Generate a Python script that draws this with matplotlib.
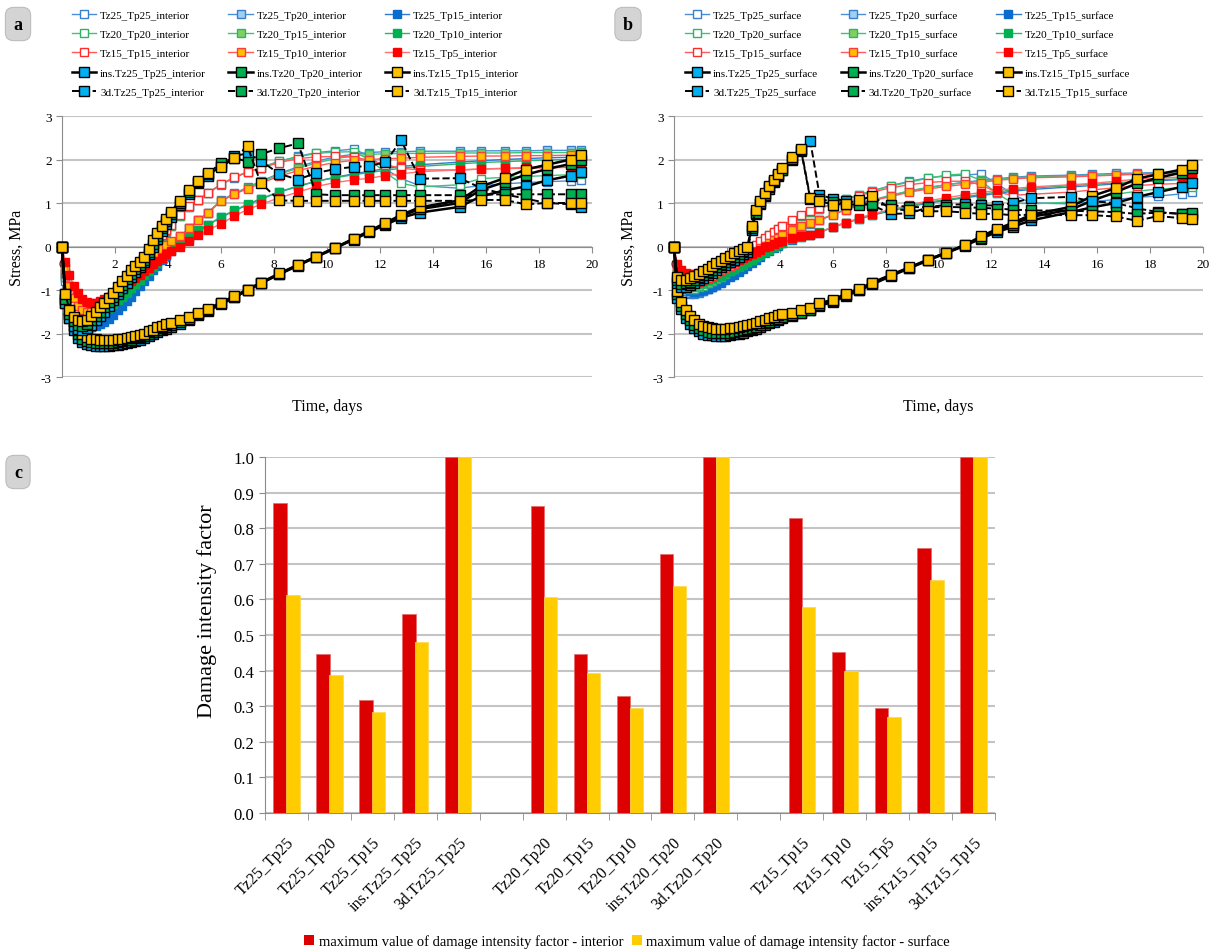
import numpy as np
import matplotlib.pyplot as plt
from matplotlib.patches import Patch

plt.rcParams['font.family'] = ['Liberation Serif', 'DejaVu Serif']
plt.rcParams['axes.unicode_minus'] = False

# time grid, days
T = [0, 0.13, 0.28, 0.44, 0.6, 0.77, 0.94, 1.1, 1.27, 1.44,
     1.6, 1.77, 1.94, 2.1, 2.27, 2.44, 2.6, 2.77, 2.94, 3.1,
     3.27, 3.44, 3.6, 3.77, 3.94, 4.1, 4.45, 4.8, 5.15, 5.5,
     6.0, 6.5, 7.0, 7.5, 8.2, 8.9, 9.6, 10.3, 11.0, 11.6,
     12.2, 12.8, 13.5, 15.0, 15.8, 16.7, 17.5, 18.3, 19.2, 19.6]

# ---- interior stress, MPa ----
i_Tz25_Tp25 = [0, -0.8, -1.25, -1.55, -1.74, -1.84, -1.88, -1.86, -1.81, -1.73,
               -1.63, -1.51, -1.39, -1.25, -1.11, -0.97, -0.83, -0.68, -0.54, -0.4,
               -0.25, -0.1, 0.05, 0.2, 0.33, 0.46, 0.7, 0.9, 1.07, 1.22,
               1.42, 1.58, 1.71, 1.81, 1.96, 2.07, 2.16, 2.2, 2.24, 2.08,
               1.78, 1.56, 1.4, 1.34, 1.4, 1.44, 1.47, 1.49, 1.51, 1.53]
i_Tz25_Tp20 = [0, -0.7, -1.12, -1.42, -1.6, -1.72, -1.78, -1.78, -1.75, -1.69,
               -1.62, -1.53, -1.43, -1.33, -1.22, -1.11, -1.0, -0.88, -0.76, -0.64,
               -0.52, -0.4, -0.28, -0.16, -0.05, 0.05, 0.22, 0.42, 0.6, 0.78,
               1.06, 1.22, 1.36, 1.5, 1.68, 1.83, 1.96, 2.06, 2.12, 2.16,
               2.18, 2.18, 2.19, 2.19, 2.2, 2.2, 2.2, 2.21, 2.21, 2.21]
i_Tz25_Tp15 = [0, -0.65, -1.1, -1.42, -1.62, -1.75, -1.82, -1.84, -1.83, -1.79,
               -1.73, -1.66, -1.57, -1.47, -1.37, -1.26, -1.15, -1.03, -0.91, -0.79,
               -0.67, -0.55, -0.44, -0.32, -0.21, -0.1, 0.05, 0.2, 0.36, 0.49,
               0.67, 0.82, 0.96, 1.09, 1.25, 1.38, 1.5, 1.59, 1.67, 1.73,
               1.79, 1.84, 1.88, 1.94, 1.97, 2.0, 2.02, 2.04, 2.05, 2.07]
i_Tz20_Tp20 = [0, -0.7, -1.12, -1.4, -1.58, -1.68, -1.72, -1.7, -1.65, -1.57,
               -1.47, -1.36, -1.24, -1.11, -0.98, -0.85, -0.72, -0.58, -0.45, -0.32,
               -0.18, -0.05, 0.09, 0.23, 0.36, 0.48, 0.71, 0.91, 1.08, 1.23,
               1.43, 1.59, 1.71, 1.81, 1.96, 2.06, 2.14, 2.17, 2.18, 2.0,
               1.7, 1.45, 1.37, 1.42, 1.56, 1.59, 1.61, 1.63, 1.65, 1.66]
i_Tz20_Tp15 = [0, -0.6, -1.0, -1.28, -1.46, -1.57, -1.62, -1.62, -1.59, -1.53,
               -1.46, -1.38, -1.29, -1.19, -1.09, -0.99, -0.88, -0.77, -0.66, -0.55,
               -0.44, -0.33, -0.22, -0.11, -0.01, 0.08, 0.23, 0.42, 0.6, 0.78,
               1.05, 1.21, 1.35, 1.48, 1.66, 1.8, 1.92, 2.02, 2.08, 2.12,
               2.13, 2.14, 2.14, 2.15, 2.15, 2.15, 2.16, 2.16, 2.16, 2.17]
i_Tz20_Tp10 = [0, -0.5, -0.9, -1.2, -1.4, -1.52, -1.58, -1.6, -1.58, -1.54,
               -1.48, -1.41, -1.33, -1.24, -1.15, -1.06, -0.96, -0.86, -0.76, -0.66,
               -0.56, -0.46, -0.37, -0.27, -0.18, -0.09, 0.08, 0.22, 0.38, 0.5,
               0.68, 0.83, 0.97, 1.1, 1.26, 1.39, 1.5, 1.58, 1.65, 1.7,
               1.75, 1.8, 1.84, 1.9, 1.93, 1.95, 1.97, 1.99, 2.0, 2.02]
i_Tz15_Tp15 = [0, -0.6, -1.0, -1.28, -1.45, -1.53, -1.55, -1.53, -1.48, -1.4,
               -1.31, -1.2, -1.09, -0.97, -0.85, -0.73, -0.61, -0.48, -0.36, -0.24,
               -0.12, 0.0, 0.13, 0.26, 0.38, 0.5, 0.72, 0.92, 1.08, 1.23,
               1.43, 1.59, 1.72, 1.8, 1.93, 2.02, 2.06, 2.07, 2.06, 1.98,
               1.88, 1.8, 1.76, 1.76, 1.78, 1.79, 1.8, 1.81, 1.82, 1.83]
i_Tz15_Tp10 = [0, -0.5, -0.9, -1.18, -1.36, -1.46, -1.5, -1.5, -1.47, -1.41,
               -1.33, -1.24, -1.15, -1.06, -0.96, -0.86, -0.76, -0.66, -0.56, -0.46,
               -0.36, -0.26, -0.16, -0.06, 0.03, 0.12, 0.24, 0.42, 0.6, 0.76,
               1.04, 1.2, 1.33, 1.45, 1.62, 1.74, 1.85, 1.93, 1.98, 2.0,
               2.02, 2.03, 2.05, 2.07, 2.08, 2.08, 2.09, 2.09, 2.1, 2.1]
i_Tz15_Tp5 = [0, -0.35, -0.65, -0.9, -1.08, -1.2, -1.28, -1.3, -1.29, -1.26,
              -1.21, -1.15, -1.08, -1.01, -0.94, -0.87, -0.8, -0.72, -0.65, -0.57,
              -0.49, -0.41, -0.34, -0.26, -0.18, -0.11, 0.0, 0.12, 0.26, 0.38,
              0.52, 0.7, 0.85, 0.97, 1.12, 1.25, 1.38, 1.47, 1.53, 1.57,
              1.63, 1.67, 1.72, 1.76, 1.78, 1.8, 1.82, 1.84, 1.85, 1.88]
i_ins_Tz25 = [0, -1.3, -1.65, -1.92, -2.1, -2.2, -2.25, -2.27, -2.28, -2.28,
              -2.28, -2.28, -2.27, -2.26, -2.24, -2.22, -2.2, -2.17, -2.14, -2.1,
              -2.06, -2.02, -1.97, -1.93, -1.89, -1.85, -1.78, -1.69, -1.58, -1.48,
              -1.33, -1.17, -1.01, -0.85, -0.64, -0.44, -0.24, -0.04, 0.16, 0.33,
              0.5, 0.66, 0.78, 0.91, 1.15, 1.29, 1.38, 1.52, 1.63, 1.71]
i_ins_Tz20 = [0, -1.2, -1.55, -1.82, -2.02, -2.12, -2.17, -2.2, -2.21, -2.22,
              -2.22, -2.22, -2.21, -2.2, -2.18, -2.16, -2.14, -2.11, -2.08, -2.05,
              -2.01, -1.97, -1.92, -1.88, -1.84, -1.8, -1.74, -1.66, -1.56, -1.46,
              -1.31, -1.16, -1.0, -0.84, -0.63, -0.43, -0.23, -0.03, 0.17, 0.35,
              0.52, 0.7, 0.86, 1.0, 1.3, 1.48, 1.65, 1.78, 1.9, 2.0]
i_ins_Tz15 = [0, -1.1, -1.45, -1.72, -1.92, -2.02, -2.08, -2.12, -2.13, -2.14,
              -2.15, -2.15, -2.14, -2.13, -2.12, -2.1, -2.08, -2.06, -2.03, -2.0,
              -1.95, -1.91, -1.86, -1.82, -1.78, -1.75, -1.7, -1.63, -1.53, -1.43,
              -1.29, -1.14, -0.99, -0.83, -0.62, -0.42, -0.23, -0.03, 0.18, 0.36,
              0.54, 0.73, 0.9, 1.06, 1.38, 1.57, 1.77, 1.88, 2.0, 2.11]
i_3d_Tz25 = [0, -1.3, -1.65, -1.82, -1.9, -1.92, -1.88, -1.8, -1.7, -1.6,
             -1.5, -1.37, -1.24, -1.1, -0.96, -0.83, -0.7, -0.58, -0.47, -0.35,
             -0.18, 0.0, 0.18, 0.36, 0.52, 0.68, 0.95, 1.2, 1.45, 1.63,
             1.85, 2.08, 2.14, 1.97, 1.67, 1.54, 1.69, 1.78, 1.83, 1.85,
             1.94, 2.44, 1.56, 1.57, 1.35, 1.2, 1.1, 1.0, 0.97, 0.9]
i_3d_Tz20 = [0, -1.2, -1.55, -1.72, -1.8, -1.82, -1.78, -1.7, -1.6, -1.5,
             -1.4, -1.28, -1.15, -1.02, -0.88, -0.75, -0.63, -0.52, -0.42, -0.3,
             -0.12, 0.06, 0.25, 0.42, 0.58, 0.74, 1.0, 1.25, 1.48, 1.67,
             1.92, 2.04, 1.95, 2.12, 2.26, 2.37, 1.2, 1.18, 1.18, 1.18,
             1.18, 1.18, 1.18, 1.18, 1.19, 1.2, 1.2, 1.2, 1.2, 1.21]
i_3d_Tz15 = [0, -1.1, -1.45, -1.62, -1.7, -1.72, -1.68, -1.6, -1.5, -1.4,
             -1.3, -1.18, -1.06, -0.94, -0.8, -0.67, -0.55, -0.45, -0.36, -0.24,
             -0.05, 0.14, 0.32, 0.48, 0.64, 0.8, 1.05, 1.29, 1.5, 1.68,
             1.82, 2.04, 2.3, 1.46, 1.06, 1.05, 1.05, 1.05, 1.05, 1.05,
             1.05, 1.05, 1.05, 1.05, 1.07, 1.07, 0.97, 1.0, 1.0, 1.0]

# ---- surface stress, MPa ----
s_Tz25_Tp25 = [0, -0.75, -0.97, -1.07, -1.1, -1.1, -1.07, -1.03, -0.98, -0.92,
               -0.85, -0.78, -0.7, -0.62, -0.53, -0.44, -0.34, -0.24, -0.14, -0.04,
               0.06, 0.15, 0.23, 0.31, 0.38, 0.45, 0.58, 0.7, 0.8, 0.87,
               0.98, 1.09, 1.19, 1.28, 1.4, 1.5, 1.58, 1.62, 1.64, 1.67,
               1.45, 1.2, 1.0, 0.98, 1.03, 1.08, 1.13, 1.16, 1.21, 1.25]
s_Tz25_Tp20 = [0, -0.7, -0.92, -1.02, -1.06, -1.07, -1.05, -1.02, -0.98, -0.93,
               -0.88, -0.82, -0.75, -0.68, -0.61, -0.53, -0.45, -0.37, -0.29, -0.21,
               -0.13, -0.05, 0.02, 0.09, 0.15, 0.21, 0.34, 0.44, 0.52, 0.6,
               0.73, 0.85, 0.96, 1.06, 1.17, 1.27, 1.35, 1.42, 1.48, 1.52,
               1.56, 1.59, 1.62, 1.64, 1.66, 1.68, 1.69, 1.7, 1.71, 1.72]
s_Tz25_Tp15 = [0, -0.65, -0.88, -0.98, -1.03, -1.04, -1.03, -1.0, -0.97, -0.93,
               -0.88, -0.83, -0.77, -0.71, -0.65, -0.58, -0.51, -0.44, -0.37, -0.3,
               -0.23, -0.16, -0.1, -0.04, 0.02, 0.07, 0.16, 0.21, 0.26, 0.32,
               0.44, 0.54, 0.63, 0.72, 0.82, 0.91, 1.0, 1.06, 1.12, 1.17,
               1.22, 1.27, 1.31, 1.37, 1.4, 1.44, 1.48, 1.51, 1.54, 1.56]
s_Tz20_Tp20 = [0, -0.65, -0.86, -0.95, -0.98, -0.97, -0.94, -0.9, -0.85, -0.79,
               -0.73, -0.66, -0.59, -0.51, -0.43, -0.35, -0.26, -0.17, -0.08, 0.01,
               0.1, 0.18, 0.26, 0.33, 0.4, 0.46, 0.59, 0.7, 0.8, 0.87,
               0.98, 1.09, 1.19, 1.28, 1.39, 1.48, 1.57, 1.64, 1.67, 1.52,
               1.22, 1.0, 0.98, 1.02, 1.1, 1.2, 1.27, 1.32, 1.35, 1.37]
s_Tz20_Tp15 = [0, -0.6, -0.8, -0.89, -0.92, -0.92, -0.9, -0.87, -0.83, -0.79,
               -0.74, -0.69, -0.63, -0.57, -0.51, -0.45, -0.38, -0.31, -0.24, -0.17,
               -0.1, -0.03, 0.04, 0.11, 0.17, 0.23, 0.36, 0.45, 0.53, 0.61,
               0.74, 0.86, 0.97, 1.07, 1.18, 1.28, 1.36, 1.42, 1.47, 1.5,
               1.54, 1.57, 1.6, 1.62, 1.64, 1.65, 1.67, 1.68, 1.69, 1.71]
s_Tz20_Tp10 = [0, -0.55, -0.75, -0.82, -0.85, -0.85, -0.84, -0.81, -0.78, -0.75,
               -0.71, -0.67, -0.62, -0.57, -0.52, -0.47, -0.42, -0.36, -0.3, -0.25,
               -0.19, -0.13, -0.08, -0.02, 0.03, 0.08, 0.17, 0.22, 0.27, 0.33,
               0.45, 0.55, 0.64, 0.73, 0.84, 0.93, 1.02, 1.08, 1.14, 1.2,
               1.25, 1.3, 1.34, 1.4, 1.43, 1.46, 1.5, 1.53, 1.56, 1.58]
s_Tz15_Tp15 = [0, -0.55, -0.75, -0.84, -0.86, -0.85, -0.82, -0.78, -0.73, -0.68,
               -0.62, -0.56, -0.49, -0.42, -0.35, -0.28, -0.2, -0.12, -0.04, 0.04,
               0.12, 0.19, 0.26, 0.33, 0.4, 0.47, 0.6, 0.72, 0.82, 0.88,
               0.98, 1.08, 1.17, 1.25, 1.35, 1.42, 1.47, 1.5, 1.5, 1.42,
               1.25, 1.18, 1.2, 1.25, 1.3, 1.35, 1.4, 1.43, 1.45, 1.47]
s_Tz15_Tp10 = [0, -0.5, -0.68, -0.76, -0.78, -0.77, -0.75, -0.72, -0.68, -0.64,
               -0.6, -0.55, -0.5, -0.45, -0.4, -0.34, -0.28, -0.22, -0.16, -0.1,
               -0.04, 0.02, 0.08, 0.14, 0.2, 0.26, 0.38, 0.46, 0.53, 0.6,
               0.73, 0.85, 0.95, 1.05, 1.15, 1.25, 1.32, 1.38, 1.43, 1.47,
               1.52, 1.55, 1.58, 1.6, 1.62, 1.64, 1.66, 1.67, 1.68, 1.7]
s_Tz15_Tp5 = [0, -0.4, -0.55, -0.62, -0.64, -0.64, -0.62, -0.6, -0.57, -0.54,
              -0.51, -0.47, -0.43, -0.39, -0.35, -0.31, -0.27, -0.22, -0.17, -0.12,
              -0.07, -0.02, 0.02, 0.06, 0.1, 0.13, 0.2, 0.24, 0.27, 0.32,
              0.45, 0.55, 0.65, 0.75, 0.85, 0.95, 1.05, 1.12, 1.19, 1.24,
              1.29, 1.33, 1.37, 1.42, 1.45, 1.5, 1.55, 1.57, 1.6, 1.65]
s_ins_Tz25 = [0, -1.18, -1.44, -1.64, -1.78, -1.88, -1.95, -2.0, -2.03, -2.04,
              -2.05, -2.05, -2.05, -2.04, -2.02, -2.0, -1.98, -1.95, -1.92, -1.89,
              -1.85, -1.81, -1.77, -1.73, -1.69, -1.65, -1.6, -1.54, -1.46, -1.37,
              -1.27, -1.14, -1.01, -0.87, -0.68, -0.5, -0.32, -0.15, 0.02, 0.18,
              0.33, 0.45, 0.6, 0.79, 0.9, 1.0, 1.14, 1.25, 1.37, 1.47]
s_ins_Tz20 = [0, -1.1, -1.36, -1.56, -1.7, -1.8, -1.88, -1.93, -1.96, -1.98,
              -1.99, -1.99, -1.99, -1.98, -1.97, -1.95, -1.93, -1.9, -1.87, -1.84,
              -1.81, -1.77, -1.73, -1.7, -1.66, -1.62, -1.58, -1.52, -1.45, -1.35,
              -1.25, -1.12, -0.99, -0.85, -0.66, -0.49, -0.31, -0.14, 0.03, 0.2,
              0.37, 0.5, 0.68, 0.85, 1.05, 1.25, 1.45, 1.58, 1.7, 1.8]
s_ins_Tz15 = [0, -1.03, -1.28, -1.47, -1.6, -1.7, -1.78, -1.83, -1.86, -1.88,
              -1.89, -1.89, -1.89, -1.88, -1.87, -1.85, -1.83, -1.81, -1.78, -1.75,
              -1.72, -1.69, -1.65, -1.62, -1.58, -1.55, -1.52, -1.47, -1.41, -1.31,
              -1.22, -1.09, -0.97, -0.83, -0.65, -0.48, -0.3, -0.14, 0.04, 0.23,
              0.4, 0.54, 0.73, 0.91, 1.16, 1.34, 1.56, 1.66, 1.77, 1.88]
s_3d_Tz25 = [0, -0.85, -0.93, -0.92, -0.88, -0.83, -0.78, -0.72, -0.66, -0.6,
             -0.54, -0.48, -0.42, -0.36, -0.3, -0.24, -0.18, -0.12, 0.38, 0.74,
             0.97, 1.15, 1.33, 1.48, 1.62, 1.75, 2.0, 2.2, 2.43, 1.19,
             1.1, 1.05, 1.0, 0.95, 0.75, 0.76, 0.9, 0.96, 0.97, 0.95,
             0.94, 1.0, 1.11, 1.14, 1.04, 1.0, 0.88, 0.79, 0.75, 0.72]
s_3d_Tz20 = [0, -0.78, -0.86, -0.85, -0.81, -0.76, -0.71, -0.65, -0.59, -0.53,
             -0.47, -0.41, -0.35, -0.29, -0.23, -0.17, -0.11, -0.05, 0.42, 0.78,
             1.0, 1.18, 1.36, 1.5, 1.64, 1.77, 2.02, 2.22, 1.1, 1.1,
             1.02, 0.98, 0.95, 0.98, 0.95, 0.91, 0.9, 0.91, 0.9, 0.89,
             0.87, 0.85, 0.83, 0.82, 0.81, 0.79, 0.75, 0.78, 0.75, 0.77]
s_3d_Tz15 = [0, -0.7, -0.78, -0.77, -0.73, -0.68, -0.63, -0.57, -0.51, -0.45,
             -0.39, -0.33, -0.27, -0.21, -0.16, -0.1, -0.05, 0.0, 0.48, 0.83,
             1.05, 1.22, 1.4, 1.53, 1.67, 1.8, 2.05, 2.25, 1.12, 1.05,
             0.96, 0.98, 1.06, 1.16, 0.86, 0.83, 0.81, 0.81, 0.78, 0.75,
             0.75, 0.72, 0.73, 0.72, 0.72, 0.69, 0.59, 0.7, 0.65, 0.64]

# ---- damage intensity factor (panel c) ----
group1 = ['Tz25_Tp25', 'Tz25_Tp20', 'Tz25_Tp15', 'ins.Tz25_Tp25', '3d.Tz25_Tp25']
group2 = ['Tz20_Tp20', 'Tz20_Tp15', 'Tz20_Tp10', 'ins.Tz20_Tp20', '3d.Tz20_Tp20']
group3 = ['Tz15_Tp15', 'Tz15_Tp10', 'Tz15_Tp5', 'ins.Tz15_Tp15', '3d.Tz15_Tp15']
dif_interior = [[0.87, 0.447, 0.317, 0.558, 1.0],
                [0.862, 0.447, 0.33, 0.727, 1.0],
                [0.828, 0.453, 0.295, 0.745, 1.0]]
dif_surface = [[0.613, 0.388, 0.283, 0.48, 1.0],
               [0.608, 0.394, 0.295, 0.638, 1.0],
               [0.578, 0.40, 0.27, 0.654, 1.0]]

names = ['Tz25_Tp25', 'Tz25_Tp20', 'Tz25_Tp15', 'Tz20_Tp20', 'Tz20_Tp15', 'Tz20_Tp10',
         'Tz15_Tp15', 'Tz15_Tp10', 'Tz15_Tp5', 'ins.Tz25_Tp25', 'ins.Tz20_Tp20',
         'ins.Tz15_Tp15', '3d.Tz25_Tp25', '3d.Tz20_Tp20', '3d.Tz15_Tp15']
interior = [i_Tz25_Tp25, i_Tz25_Tp20, i_Tz25_Tp15, i_Tz20_Tp20, i_Tz20_Tp15, i_Tz20_Tp10,
            i_Tz15_Tp15, i_Tz15_Tp10, i_Tz15_Tp5, i_ins_Tz25, i_ins_Tz20, i_ins_Tz15,
            i_3d_Tz25, i_3d_Tz20, i_3d_Tz15]
surface = [s_Tz25_Tp25, s_Tz25_Tp20, s_Tz25_Tp15, s_Tz20_Tp20, s_Tz20_Tp15, s_Tz20_Tp10,
           s_Tz15_Tp15, s_Tz15_Tp10, s_Tz15_Tp5, s_ins_Tz25, s_ins_Tz20, s_ins_Tz15,
           s_3d_Tz25, s_3d_Tz20, s_3d_Tz15]

# style: line colour, linestyle, linewidth, marker face, marker edge, marker size
styles = [
    ('#4a8fd8', '-', 1.0, 'white', '#3a7fcf', 5.5),
    ('#4a8fd8', '-', 1.0, '#9fd0f2', '#3a7fcf', 5.5),
    ('#2f7ad0', '-', 1.0, '#0a6ccc', '#0a6ccc', 5.5),
    ('#3fc27a', '-', 1.0, 'white', '#2fb36a', 5.5),
    ('#3fc27a', '-', 1.0, '#80d060', '#2fb36a', 5.5),
    ('#2fb36a', '-', 1.0, '#00b050', '#00b050', 5.5),
    ('#ff5a5a', '-', 1.0, 'white', '#ff2a2a', 5.5),
    ('#ff5a5a', '-', 1.0, '#ffc000', '#ff3a3a', 5.5),
    ('#ff7070', '-', 1.0, '#ff0000', '#ff0000', 5.5),
    ('black', '-', 1.8, '#00b0f0', 'black', 7),
    ('black', '-', 1.8, '#00b050', 'black', 7),
    ('black', '-', 1.8, '#ffc000', 'black', 7),
    ('black', '--', 1.4, '#00b0f0', 'black', 7),
    ('black', '--', 1.4, '#00b050', 'black', 7),
    ('black', '--', 1.4, '#ffc000', 'black', 7),
]

fig = plt.figure(figsize=(12.13, 9.53), dpi=100)
W, H = 1213, 953


def stress_panel(rect, data, suffix, leg_x):
    ax = fig.add_axes(rect)
    handles = []
    for k, (vals, st) in enumerate(zip(data, styles)):
        c, ls, lw, mf, me, ms = st
        h, = ax.plot(T, vals, color=c, ls=ls, lw=lw, marker='s', ms=ms,
                     mfc=mf, mec=me, mew=1.0, zorder=3 + k * 0.1, clip_on=False)
        handles.append(h)
    ax.set_xlim(0, 20)
    ax.set_ylim(-3, 3)
    ax.set_xticks(range(0, 21, 2))
    ax.set_yticks(range(-3, 4))
    ax.spines['bottom'].set_position(('data', 0))
    ax.spines['bottom'].set_color('#8c8c8c')
    ax.spines['left'].set_color('#8c8c8c')
    ax.spines['top'].set_visible(False)
    ax.spines['right'].set_visible(False)
    ax.yaxis.grid(True, color='#c4c4c4', lw=1.5)
    ax.set_axisbelow(True)
    ax.tick_params(axis='both', labelsize=9.5, color='#8c8c8c', length=4)
    ax.tick_params(axis='x', pad=4)
    ax.set_ylabel('Stress, MPa', fontsize=11.5)
    ax.yaxis.set_label_coords(-0.07, 0.5)
    ax.text(0.5, -0.11, 'Time, days', transform=ax.transAxes, ha='center',
            va='center', fontsize=11.5)
    labels = [n + '_' + suffix for n in names]
    order = [r * 3 + c for c in range(3) for r in range(5)]
    fig.legend([handles[i] for i in order], [labels[i] for i in order],
               loc='upper left', bbox_to_anchor=(leg_x / W, 1 - 2 / H), ncol=3,
               frameon=False, fontsize=8, handlelength=2.2, handletextpad=0.35,
               columnspacing=2.0, labelspacing=0.86, borderpad=0.3)
    return ax


stress_panel([62 / W, 1 - 378 / H, 530 / W, 261 / H], interior, 'interior', 63)
stress_panel([674 / W, 1 - 378 / H, 529 / W, 261 / H], surface, 'surface', 676)

# panel c
axc = fig.add_axes([265 / W, 1 - 814 / H, 730 / W, 356 / H])
groups = [group1, group2, group3]
centers, tick_names = [], []
for g, (labs, vi, vs) in enumerate(zip(groups, dif_interior, dif_surface)):
    pos = np.arange(len(labs)) + g * (len(labs) + 1)
    axc.bar(pos - 0.15, vi, width=0.31, color='#dd0000', edgecolor='#e46a6a', lw=0.5, zorder=3)
    axc.bar(pos + 0.15, vs, width=0.31, color='#ffcc00', edgecolor='#ffd84a', lw=0.5, zorder=3)
    centers += list(pos)
    tick_names += labs
axc.set_xlim(-0.5, 16.5)
axc.set_ylim(0, 1.0)
axc.set_yticks(np.arange(0, 1.01, 0.1))
axc.set_yticklabels(['%.1f' % v for v in np.arange(0, 1.01, 0.1)])
axc.set_xticks(centers)
axc.set_xticklabels(tick_names, rotation=45, ha='right', rotation_mode='anchor')
axc.set_xticks(np.arange(-0.5, 17, 1), minor=True)
axc.tick_params(axis='x', which='major', length=0, pad=15, labelsize=11.5)
axc.tick_params(axis='x', which='minor', length=5, color='#8c8c8c')
axc.tick_params(axis='y', labelsize=12, color='#8c8c8c', length=4)
axc.yaxis.grid(True, color='#c4c4c4', lw=1.5)
axc.set_axisbelow(True)
for s in ['top', 'right']:
    axc.spines[s].set_visible(False)
axc.spines['left'].set_color('#8c8c8c')
axc.spines['bottom'].set_color('#8c8c8c')
axc.set_ylabel('Damage intensity factor', fontsize=16)
axc.yaxis.set_label_coords(-0.066, 0.57)

leg_h = [Patch(facecolor='#dd0000', edgecolor='none'), Patch(facecolor='#ffcc00', edgecolor='none')]
fig.legend(leg_h, ['maximum value of damage intensity factor - interior',
                   'maximum value of damage intensity factor - surface'],
           loc='center', bbox_to_anchor=(627 / W, 1 - 942 / H), ncol=2, frameon=False,
           fontsize=10.5, handlelength=0.7, handleheight=0.7, handletextpad=0.3,
           columnspacing=0.6)

# panel letters
for x, y, s in [(18, 25, 'a'), (628, 25, 'b'), (18, 473, 'c')]:
    fig.text(x / W, 1 - y / H, s, ha='center', va='center', fontsize=13, weight='bold',
             bbox=dict(boxstyle='round,pad=0.45', fc='#d4d4d4', ec='#bdbdbd', lw=0.8))

fig.savefig('out.png', dpi=100)
